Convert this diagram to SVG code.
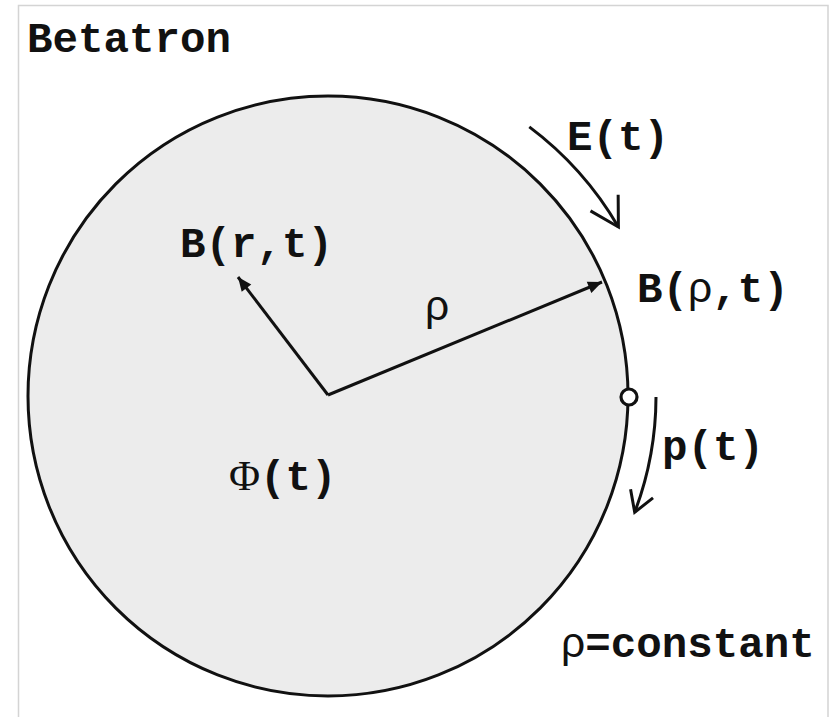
<svg xmlns="http://www.w3.org/2000/svg" width="833" height="717" viewBox="0 0 833 717">
<style>
.frame{fill:none;stroke:#d4d4d4;stroke-width:1.5}
.ring{fill:#ececec;stroke:#111;stroke-width:3}
.conn{fill:none;stroke:#111;stroke-width:3}
.lbl{font-family:"Liberation Mono","Courier New",monospace;font-weight:bold;font-size:42.5px;fill:#111}
.gr{font-family:"Liberation Sans",Arial,sans-serif;font-weight:normal}
.grs{font-family:"Liberation Serif","Times New Roman",serif;font-weight:normal}
</style>
<defs>
<marker id="tri" markerUnits="userSpaceOnUse" markerWidth="20" markerHeight="20" viewBox="0 0 20 20" refX="16" refY="10" orient="auto">
<path d="M2,4 L16,10 L2,16 Z" fill="#111"/>
</marker>
<marker id="vbig" markerUnits="userSpaceOnUse" markerWidth="40" markerHeight="40" viewBox="0 0 40 40" refX="34" refY="20" orient="auto">
<path d="M6,4 L34,20 L6,36" fill="none" stroke="#111" stroke-width="3" stroke-linejoin="miter"/>
</marker>
<marker id="vsmall" markerUnits="userSpaceOnUse" markerWidth="30" markerHeight="30" viewBox="0 0 30 30" refX="25" refY="15" orient="auto">
<path d="M5,3 L25,15 L5,27" fill="none" stroke="#111" stroke-width="3"/>
</marker>
</defs>
<path class="frame" d="M18.5,717 V5.5 H828 V717"/>
<g id="title"><text class="lbl" x="27" y="52">Betatron</text></g>
<g id="orbit">
<circle class="ring" cx="328" cy="396" r="300"/>
</g>
<g id="connectors">
<line class="conn" x1="328" y1="395" x2="238" y2="277" marker-end="url(#tri)"/>
<line class="conn" x1="328" y1="395" x2="602" y2="282" marker-end="url(#tri)"/>
<path class="conn" d="M529.3,126.9 A336,336 0 0 1 618.4,227" marker-end="url(#vbig)"/>
<path class="conn" d="M656,397 A328,328 0 0 1 634.7,512.3" marker-end="url(#vsmall)"/>
</g>
<g id="particle"><circle cx="629" cy="397" r="8" fill="#fff" stroke="#111" stroke-width="3.2"/></g>
<g id="label-Brt"><text class="lbl" x="180" y="257">B(r,t)</text></g>
<g id="label-rho"><text class="lbl gr" x="425" y="320">ρ</text></g>
<g id="label-Et"><text class="lbl" x="567" y="150">E(t)</text></g>
<g id="label-Brhot"><text class="lbl" x="637" y="302">B(<tspan class="gr">ρ</tspan>,t)</text></g>
<g id="label-pt"><text class="lbl" x="662" y="460">p(t)</text></g>
<g id="label-Phi"><text class="lbl" x="229" y="490"><tspan class="grs">Φ</tspan>(t)</text></g>
<g id="label-const"><text class="lbl" x="561" y="657"><tspan class="gr">ρ</tspan>=constant</text></g>
</svg>
